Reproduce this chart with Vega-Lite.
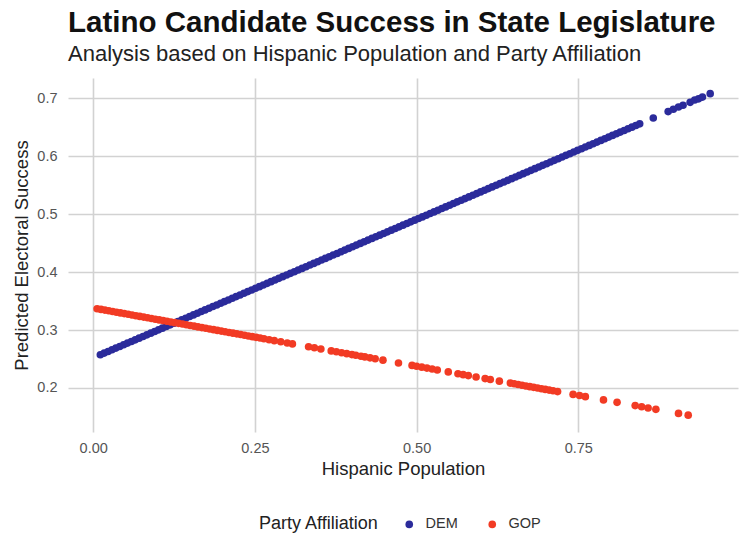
{
 "$schema": "https://vega.github.io/schema/vega-lite/v6.json",
 "width": 670,
 "height": 354,
 "autosize": {"type": "none"},
 "padding": {"left": 68, "top": 78, "right": 8, "bottom": 109},
 "background": "white",
 "title": {
  "text": "Latino Candidate Success in State Legislature",
  "subtitle": "Analysis based on Hispanic Population and Party Affiliation",
  "anchor": "start",
  "frame": "group",
  "font": "Liberation Sans",
  "fontSize": 29.5,
  "fontWeight": "bold",
  "color": "#111111",
  "subtitleFont": "Liberation Sans",
  "subtitleFontSize": 22,
  "subtitleColor": "#222222",
  "subtitlePadding": 6,
  "offset": 12
 },
 "datasets": {
  "dem": [
   {"party":"DEM","hispanic":0.011,"success":0.2573},{"party":"DEM","hispanic":0.017,"success":0.2602},{"party":"DEM","hispanic":0.023,"success":0.2630},{"party":"DEM","hispanic":0.029,"success":0.2659},{"party":"DEM","hispanic":0.035,"success":0.2688},{"party":"DEM","hispanic":0.041,"success":0.2716},{"party":"DEM","hispanic":0.047,"success":0.2745},{"party":"DEM","hispanic":0.053,"success":0.2774},{"party":"DEM","hispanic":0.059,"success":0.2802},{"party":"DEM","hispanic":0.065,"success":0.2831},
   {"party":"DEM","hispanic":0.071,"success":0.2860},{"party":"DEM","hispanic":0.077,"success":0.2888},{"party":"DEM","hispanic":0.083,"success":0.2917},{"party":"DEM","hispanic":0.089,"success":0.2946},{"party":"DEM","hispanic":0.095,"success":0.2975},{"party":"DEM","hispanic":0.101,"success":0.3003},{"party":"DEM","hispanic":0.107,"success":0.3032},{"party":"DEM","hispanic":0.113,"success":0.3061},{"party":"DEM","hispanic":0.119,"success":0.3089},{"party":"DEM","hispanic":0.125,"success":0.3118},
   {"party":"DEM","hispanic":0.131,"success":0.3147},{"party":"DEM","hispanic":0.137,"success":0.3175},{"party":"DEM","hispanic":0.143,"success":0.3204},{"party":"DEM","hispanic":0.149,"success":0.3233},{"party":"DEM","hispanic":0.155,"success":0.3261},{"party":"DEM","hispanic":0.161,"success":0.3290},{"party":"DEM","hispanic":0.167,"success":0.3319},{"party":"DEM","hispanic":0.173,"success":0.3347},{"party":"DEM","hispanic":0.179,"success":0.3376},{"party":"DEM","hispanic":0.185,"success":0.3405},
   {"party":"DEM","hispanic":0.191,"success":0.3433},{"party":"DEM","hispanic":0.197,"success":0.3462},{"party":"DEM","hispanic":0.203,"success":0.3491},{"party":"DEM","hispanic":0.209,"success":0.3519},{"party":"DEM","hispanic":0.215,"success":0.3548},{"party":"DEM","hispanic":0.221,"success":0.3577},{"party":"DEM","hispanic":0.227,"success":0.3605},{"party":"DEM","hispanic":0.233,"success":0.3634},{"party":"DEM","hispanic":0.239,"success":0.3663},{"party":"DEM","hispanic":0.245,"success":0.3692},
   {"party":"DEM","hispanic":0.251,"success":0.3720},{"party":"DEM","hispanic":0.257,"success":0.3749},{"party":"DEM","hispanic":0.263,"success":0.3778},{"party":"DEM","hispanic":0.269,"success":0.3806},{"party":"DEM","hispanic":0.275,"success":0.3835},{"party":"DEM","hispanic":0.281,"success":0.3864},{"party":"DEM","hispanic":0.287,"success":0.3892},{"party":"DEM","hispanic":0.293,"success":0.3921},{"party":"DEM","hispanic":0.299,"success":0.3950},{"party":"DEM","hispanic":0.305,"success":0.3978},
   {"party":"DEM","hispanic":0.311,"success":0.4007},{"party":"DEM","hispanic":0.317,"success":0.4036},{"party":"DEM","hispanic":0.323,"success":0.4064},{"party":"DEM","hispanic":0.329,"success":0.4093},{"party":"DEM","hispanic":0.335,"success":0.4122},{"party":"DEM","hispanic":0.341,"success":0.4150},{"party":"DEM","hispanic":0.347,"success":0.4179},{"party":"DEM","hispanic":0.353,"success":0.4208},{"party":"DEM","hispanic":0.359,"success":0.4236},{"party":"DEM","hispanic":0.365,"success":0.4265},
   {"party":"DEM","hispanic":0.371,"success":0.4294},{"party":"DEM","hispanic":0.377,"success":0.4322},{"party":"DEM","hispanic":0.383,"success":0.4351},{"party":"DEM","hispanic":0.389,"success":0.4380},{"party":"DEM","hispanic":0.395,"success":0.4409},{"party":"DEM","hispanic":0.401,"success":0.4437},{"party":"DEM","hispanic":0.407,"success":0.4466},{"party":"DEM","hispanic":0.413,"success":0.4495},{"party":"DEM","hispanic":0.419,"success":0.4523},{"party":"DEM","hispanic":0.425,"success":0.4552},
   {"party":"DEM","hispanic":0.431,"success":0.4581},{"party":"DEM","hispanic":0.437,"success":0.4609},{"party":"DEM","hispanic":0.443,"success":0.4638},{"party":"DEM","hispanic":0.449,"success":0.4667},{"party":"DEM","hispanic":0.455,"success":0.4695},{"party":"DEM","hispanic":0.461,"success":0.4724},{"party":"DEM","hispanic":0.467,"success":0.4753},{"party":"DEM","hispanic":0.473,"success":0.4781},{"party":"DEM","hispanic":0.479,"success":0.4810},{"party":"DEM","hispanic":0.485,"success":0.4839},
   {"party":"DEM","hispanic":0.491,"success":0.4867},{"party":"DEM","hispanic":0.497,"success":0.4896},{"party":"DEM","hispanic":0.503,"success":0.4925},{"party":"DEM","hispanic":0.509,"success":0.4953},{"party":"DEM","hispanic":0.515,"success":0.4982},{"party":"DEM","hispanic":0.521,"success":0.5011},{"party":"DEM","hispanic":0.527,"success":0.5039},{"party":"DEM","hispanic":0.533,"success":0.5068},{"party":"DEM","hispanic":0.539,"success":0.5097},{"party":"DEM","hispanic":0.545,"success":0.5125},
   {"party":"DEM","hispanic":0.551,"success":0.5154},{"party":"DEM","hispanic":0.557,"success":0.5183},{"party":"DEM","hispanic":0.563,"success":0.5212},{"party":"DEM","hispanic":0.569,"success":0.5240},{"party":"DEM","hispanic":0.575,"success":0.5269},{"party":"DEM","hispanic":0.581,"success":0.5298},{"party":"DEM","hispanic":0.587,"success":0.5326},{"party":"DEM","hispanic":0.593,"success":0.5355},{"party":"DEM","hispanic":0.599,"success":0.5384},{"party":"DEM","hispanic":0.605,"success":0.5412},
   {"party":"DEM","hispanic":0.611,"success":0.5441},{"party":"DEM","hispanic":0.617,"success":0.5470},{"party":"DEM","hispanic":0.623,"success":0.5498},{"party":"DEM","hispanic":0.629,"success":0.5527},{"party":"DEM","hispanic":0.635,"success":0.5556},{"party":"DEM","hispanic":0.641,"success":0.5584},{"party":"DEM","hispanic":0.647,"success":0.5613},{"party":"DEM","hispanic":0.653,"success":0.5642},{"party":"DEM","hispanic":0.659,"success":0.5670},{"party":"DEM","hispanic":0.665,"success":0.5699},
   {"party":"DEM","hispanic":0.671,"success":0.5728},{"party":"DEM","hispanic":0.677,"success":0.5756},{"party":"DEM","hispanic":0.683,"success":0.5785},{"party":"DEM","hispanic":0.689,"success":0.5814},{"party":"DEM","hispanic":0.695,"success":0.5842},{"party":"DEM","hispanic":0.701,"success":0.5871},{"party":"DEM","hispanic":0.707,"success":0.5900},{"party":"DEM","hispanic":0.713,"success":0.5929},{"party":"DEM","hispanic":0.719,"success":0.5957},{"party":"DEM","hispanic":0.725,"success":0.5986},
   {"party":"DEM","hispanic":0.731,"success":0.6015},{"party":"DEM","hispanic":0.737,"success":0.6043},{"party":"DEM","hispanic":0.743,"success":0.6072},{"party":"DEM","hispanic":0.749,"success":0.6101},{"party":"DEM","hispanic":0.755,"success":0.6129},{"party":"DEM","hispanic":0.761,"success":0.6158},{"party":"DEM","hispanic":0.767,"success":0.6187},{"party":"DEM","hispanic":0.773,"success":0.6215},{"party":"DEM","hispanic":0.779,"success":0.6244},{"party":"DEM","hispanic":0.785,"success":0.6273},
   {"party":"DEM","hispanic":0.791,"success":0.6301},{"party":"DEM","hispanic":0.797,"success":0.6330},{"party":"DEM","hispanic":0.803,"success":0.6359},{"party":"DEM","hispanic":0.809,"success":0.6387},{"party":"DEM","hispanic":0.815,"success":0.6416},{"party":"DEM","hispanic":0.821,"success":0.6445},{"party":"DEM","hispanic":0.827,"success":0.6473},{"party":"DEM","hispanic":0.833,"success":0.6502},{"party":"DEM","hispanic":0.839,"success":0.6531},{"party":"DEM","hispanic":0.845,"success":0.6559},
   {"party":"DEM","hispanic":0.866,"success":0.666},{"party":"DEM","hispanic":0.889,"success":0.677},{"party":"DEM","hispanic":0.897,"success":0.681},{"party":"DEM","hispanic":0.905,"success":0.685},{"party":"DEM","hispanic":0.912,"success":0.688},{"party":"DEM","hispanic":0.923,"success":0.693},{"party":"DEM","hispanic":0.930,"success":0.697},{"party":"DEM","hispanic":0.936,"success":0.699},{"party":"DEM","hispanic":0.942,"success":0.702},{"party":"DEM","hispanic":0.954,"success":0.708}
  ],
  "gop": [
   {"party":"GOP","hispanic":0.006,"success":0.3368},{"party":"GOP","hispanic":0.012,"success":0.3356},{"party":"GOP","hispanic":0.018,"success":0.3344},{"party":"GOP","hispanic":0.024,"success":0.3332},{"party":"GOP","hispanic":0.030,"success":0.3320},{"party":"GOP","hispanic":0.036,"success":0.3308},{"party":"GOP","hispanic":0.042,"success":0.3296},{"party":"GOP","hispanic":0.048,"success":0.3284},{"party":"GOP","hispanic":0.054,"success":0.3272},{"party":"GOP","hispanic":0.060,"success":0.3259},
   {"party":"GOP","hispanic":0.066,"success":0.3247},{"party":"GOP","hispanic":0.072,"success":0.3235},{"party":"GOP","hispanic":0.078,"success":0.3223},{"party":"GOP","hispanic":0.084,"success":0.3211},{"party":"GOP","hispanic":0.090,"success":0.3199},{"party":"GOP","hispanic":0.096,"success":0.3187},{"party":"GOP","hispanic":0.102,"success":0.3175},{"party":"GOP","hispanic":0.108,"success":0.3163},{"party":"GOP","hispanic":0.114,"success":0.3151},{"party":"GOP","hispanic":0.120,"success":0.3139},
   {"party":"GOP","hispanic":0.126,"success":0.3127},{"party":"GOP","hispanic":0.132,"success":0.3115},{"party":"GOP","hispanic":0.138,"success":0.3103},{"party":"GOP","hispanic":0.144,"success":0.3091},{"party":"GOP","hispanic":0.150,"success":0.3079},{"party":"GOP","hispanic":0.156,"success":0.3067},{"party":"GOP","hispanic":0.162,"success":0.3054},{"party":"GOP","hispanic":0.168,"success":0.3042},{"party":"GOP","hispanic":0.174,"success":0.3030},{"party":"GOP","hispanic":0.180,"success":0.3018},
   {"party":"GOP","hispanic":0.186,"success":0.3006},{"party":"GOP","hispanic":0.192,"success":0.2994},{"party":"GOP","hispanic":0.198,"success":0.2982},{"party":"GOP","hispanic":0.204,"success":0.2970},{"party":"GOP","hispanic":0.210,"success":0.2958},{"party":"GOP","hispanic":0.216,"success":0.2946},{"party":"GOP","hispanic":0.222,"success":0.2934},{"party":"GOP","hispanic":0.228,"success":0.2922},{"party":"GOP","hispanic":0.234,"success":0.2910},{"party":"GOP","hispanic":0.240,"success":0.2898},
   {"party":"GOP","hispanic":0.246,"success":0.2886},{"party":"GOP","hispanic":0.252,"success":0.2874},{"party":"GOP","hispanic":0.258,"success":0.2862},{"party":"GOP","hispanic":0.264,"success":0.2849},
   {"party":"GOP","hispanic":0.272,"success":0.2833},{"party":"GOP","hispanic":0.280,"success":0.2817},{"party":"GOP","hispanic":0.290,"success":0.2797},{"party":"GOP","hispanic":0.300,"success":0.2777},{"party":"GOP","hispanic":0.308,"success":0.2761},{"party":"GOP","hispanic":0.333,"success":0.2711},{"party":"GOP","hispanic":0.342,"success":0.2693},{"party":"GOP","hispanic":0.352,"success":0.2672},{"party":"GOP","hispanic":0.368,"success":0.2640},{"party":"GOP","hispanic":0.376,"success":0.2624},
   {"party":"GOP","hispanic":0.384,"success":0.2608},{"party":"GOP","hispanic":0.392,"success":0.2592},{"party":"GOP","hispanic":0.400,"success":0.2576},{"party":"GOP","hispanic":0.406,"success":0.2564},{"party":"GOP","hispanic":0.414,"success":0.2548},{"party":"GOP","hispanic":0.420,"success":0.2536},{"party":"GOP","hispanic":0.428,"success":0.2520},{"party":"GOP","hispanic":0.436,"success":0.2504},{"party":"GOP","hispanic":0.448,"success":0.2480},{"party":"GOP","hispanic":0.472,"success":0.2431},
   {"party":"GOP","hispanic":0.493,"success":0.2389},{"party":"GOP","hispanic":0.500,"success":0.2375},{"party":"GOP","hispanic":0.508,"success":0.2359},{"party":"GOP","hispanic":0.516,"success":0.2343},{"party":"GOP","hispanic":0.524,"success":0.2327},{"party":"GOP","hispanic":0.532,"success":0.2311},{"party":"GOP","hispanic":0.549,"success":0.2277},{"party":"GOP","hispanic":0.564,"success":0.2246},{"party":"GOP","hispanic":0.572,"success":0.2230},{"party":"GOP","hispanic":0.580,"success":0.2214},
   {"party":"GOP","hispanic":0.592,"success":0.2190},{"party":"GOP","hispanic":0.606,"success":0.2162},{"party":"GOP","hispanic":0.614,"success":0.2146},{"party":"GOP","hispanic":0.628,"success":0.2118},{"party":"GOP","hispanic":0.645,"success":0.2084},{"party":"GOP","hispanic":0.651,"success":0.2072},{"party":"GOP","hispanic":0.657,"success":0.2059},{"party":"GOP","hispanic":0.663,"success":0.2047},{"party":"GOP","hispanic":0.669,"success":0.2035},{"party":"GOP","hispanic":0.675,"success":0.2023},
   {"party":"GOP","hispanic":0.681,"success":0.2011},{"party":"GOP","hispanic":0.687,"success":0.1999},{"party":"GOP","hispanic":0.693,"success":0.1987},{"party":"GOP","hispanic":0.699,"success":0.1975},{"party":"GOP","hispanic":0.705,"success":0.1963},{"party":"GOP","hispanic":0.711,"success":0.1951},{"party":"GOP","hispanic":0.718,"success":0.1937},{"party":"GOP","hispanic":0.742,"success":0.1889},{"party":"GOP","hispanic":0.752,"success":0.1869},{"party":"GOP","hispanic":0.761,"success":0.1850},
   {"party":"GOP","hispanic":0.789,"success":0.1794},{"party":"GOP","hispanic":0.810,"success":0.1752},{"party":"GOP","hispanic":0.838,"success":0.1696},{"party":"GOP","hispanic":0.848,"success":0.1676},{"party":"GOP","hispanic":0.858,"success":0.1655},{"party":"GOP","hispanic":0.870,"success":0.1631},{"party":"GOP","hispanic":0.905,"success":0.1561},{"party":"GOP","hispanic":0.920,"success":0.1531}
  ]
 },
 "layer": [
  {
   "data": {"name": "dem"},
   "mark": {"type": "point", "filled": true, "size": 58, "opacity": 1},
   "encoding": {
    "x": {"field": "hispanic", "type": "quantitative"},
    "y": {"field": "success", "type": "quantitative"},
    "color": {"field": "party", "type": "nominal"}
   }
  },
  {
   "data": {"name": "gop"},
   "mark": {"type": "point", "filled": true, "size": 58, "opacity": 1},
   "encoding": {
    "x": {"field": "hispanic", "type": "quantitative"},
    "y": {"field": "success", "type": "quantitative"},
    "color": {"field": "party", "type": "nominal"}
   }
  }
 ],
 "encoding": {
  "x": {
   "field": "hispanic", "type": "quantitative",
   "scale": {"domain": [-0.039, 0.997], "nice": false, "zero": false},
   "axis": {"title": "Hispanic Population", "values": [0, 0.25, 0.5, 0.75], "format": ".2f", "labelPadding": 9, "titlePadding": 5}
  },
  "y": {
   "field": "success", "type": "quantitative",
   "scale": {"domain": [0.124, 0.735], "nice": false, "zero": false},
   "axis": {"title": "Predicted Electoral Success", "values": [0.2, 0.3, 0.4, 0.5, 0.6, 0.7], "format": ".1f", "labelPadding": 11, "titlePadding": 5}
  },
  "color": {
   "field": "party", "type": "nominal",
   "scale": {"domain": ["DEM", "GOP"], "range": ["#2b2b9b", "#f23b24"]},
   "legend": {
    "title": "Party Affiliation",
    "orient": "none",
    "direction": "horizontal",
    "legendX": 191,
    "legendY": 439,
    "titleOrient": "left",
    "titleAnchor": "middle",
    "titleBaseline": "middle",
    "titlePadding": 23,
    "labelOffset": 9,
    "columnPadding": 27,
    "symbolType": "circle",
    "symbolSize": 58
   }
  }
 },
 "config": {
  "view": {"stroke": null},
  "font": "Liberation Sans",
  "axis": {
   "domain": false,
   "ticks": false,
   "grid": true,
   "gridColor": "#d2d2d2",
   "gridWidth": 1.6,
   "labelFont": "Liberation Sans",
   "labelFontSize": 14.5,
   "labelColor": "#555555",
   "titleFont": "Liberation Sans",
   "titleFontSize": 18.5,
   "titleFontWeight": "normal",
   "titleColor": "#222222"
  },
  "legend": {
   "titleFont": "Liberation Sans",
   "titleFontSize": 18,
   "titleFontWeight": "normal",
   "titleColor": "#222222",
   "labelFont": "Liberation Sans",
   "labelFontSize": 14.5,
   "labelColor": "#333333"
  }
 }
}
